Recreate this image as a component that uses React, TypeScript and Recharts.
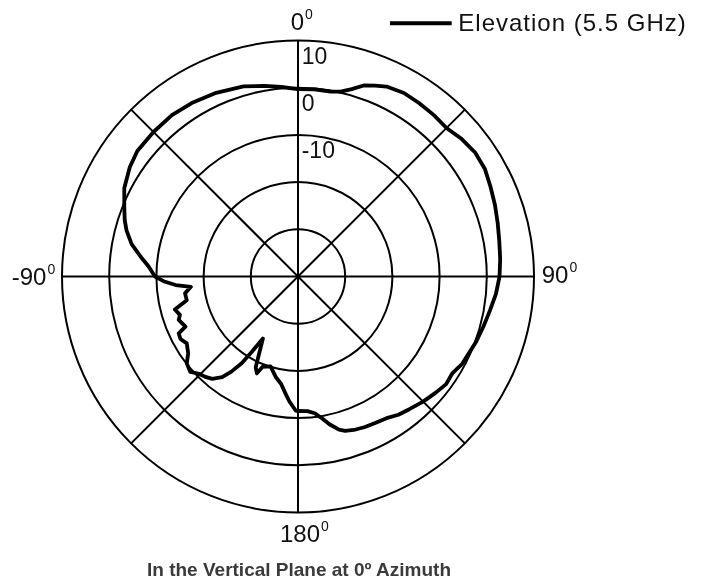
import React from "react";
import {
  RadarChart,
  Radar,
  PolarGrid,
  PolarAngleAxis,
  PolarRadiusAxis,
  Legend,
} from "recharts";

// measured elevation pattern, angle in degrees clockwise from top
const ANGLES = [
  0, 5, 10, 13, 16, 19, 22, 25, 30, 35, 40, 45, 50, 55, 60, 65, 70, 75, 80, 85,
  90, 95, 100, 105, 110, 115, 118, 122, 126, 130, 135, 140, 144, 148, 152, 156,
  160, 163, 165, 168, 170, 173, 176, 180, 181, 184, 186, 189, 192.5, 197, 201.5,
  203, 205, 209.5, 211.5, 213, 215, 217, 220, 223, 225.5, 228.5, 232, 235, 239,
  242, 244.5, 246, 250, 252, 255, 258, 261.5, 264.5, 266, 268, 270, 274, 277,
  281, 285, 288, 292, 297, 303, 308, 315, 322, 328.5, 336, 344, 350, 355,
];
const GAIN = [
  -0.3, -0.2, -0.2, 0.2, 1.3, 2.8, 3.6, 4.4, 4.9, 4.8, 4.7, 4.5, 5.3, 5.8, 5.7,
  5.0, 4.4, 3.8, 3.3, 3.0, 2.7, 2.1, 1.3, 0.7, 0.2, -0.4, -0.6, -1.4, -1.2, -1.8,
  -2.5, -3.3, -3.8, -4.6, -4.9, -5.1, -5.4, -5.8, -6.4, -8.0, -9.3, -10.8, -11.4,
  -11.5, -11.6, -13.5, -15.0, -17.0, -18.2, -20.1, -19.4, -17.7, -18.8, -24.9,
  -21.3, -18.1, -15.4, -13.3, -11.7, -11.0, -10.6, -9.5, -10.1, -11.6, -12.5,
  -11.8, -12.0, -13.9, -13.1, -13.7, -13.0, -15.9, -15.8, -17.2, -14.0, -11.5,
  -9.7, -8.2, -6.5, -4.1, -2.4, -1.4, -0.3, 1.3, 2.5, 3.2, 3.3, 3.4, 3.1, 2.6,
  1.9, 1.0, 0.3,
];

const SPOKES = [0, 45, 90, 135, 180, 225, 270, 315];
const RINGS = [-30, -20, -10, 0, 10];
const RING_LABELS = [-10, 0, 10];
const ANGLE_LABELS: Record<number, string> = { 0: "0", 90: "90", 180: "180", 270: "-90" };

const data = ANGLES.map((a, i) => ({ angle: a, gain: GAIN[i] }));

const FONT = "'Liberation Sans', Arial, sans-serif";

// offsets of each angle label from the tick anchor point
const LABEL_OFFSET: Record<number, [number, number]> = {
  0: [-7.3, -2.5],
  90: [-0.3, 6.8],
  180: [-18, 21.5],
  270: [-42.3, 8.5],
};

function AngleTick(props: any) {
  const { x, y, payload } = props;
  const text = ANGLE_LABELS[payload.value];
  if (text === undefined) return null;
  const [dx, dy] = LABEL_OFFSET[payload.value];
  return (
    <text x={x + dx} y={y + dy} fontSize={24} fontFamily={FONT} fill="#111" textAnchor="start">
      <tspan>{text}</tspan>
      <tspan fontSize={14} dy={-11} dx={1}>0</tspan>
    </text>
  );
}

function RadiusTick(props: any) {
  const { x, y, payload } = props;
  if (!RING_LABELS.includes(payload.value)) return null;
  return (
    <text x={x + 3.7} y={y + 23.5} fontSize={23} fontFamily={FONT} fill="#111" textAnchor="start">
      {payload.value}
    </text>
  );
}

function LegendBox() {
  return (
    <svg width={320} height={40}>
      <line x1={2} y1={23.3} x2={63.7} y2={23.3} stroke="#000" strokeWidth={4} />
      <text x={70.3} y={30.7} fontSize={24} fontFamily={FONT} fill="#111" letterSpacing={1}>
        Elevation (5.5 GHz)
      </text>
    </svg>
  );
}

export default function App() {
  return (
    <div style={{ position: "fixed", left: 0, top: 0, width: 706, height: 584 }}>
      <RadarChart
        width={706}
        height={584}
        cx={298}
        cy={276.5}
        outerRadius={236}
        startAngle={90}
        endAngle={-270}
        margin={{ top: 0, right: 0, bottom: 0, left: 0 }}
        data={data}
      >
        <PolarGrid gridType="circle" stroke="#000" strokeWidth={2} strokeOpacity={1} />
        <PolarAngleAxis
          dataKey="angle"
          type="number"
          domain={[0, 360]}
          ticks={SPOKES}
          tick={<AngleTick />}
          axisLine={false}
          tickLine={false}
        />
        <PolarRadiusAxis
          angle={90}
          type="number"
          domain={[-40, 10]}
          ticks={RINGS}
          tick={<RadiusTick />}
          axisLine={false}
          tickLine={false}
        />
        <Radar
          name="Elevation (5.5 GHz)"
          dataKey="gain"
          stroke="#000"
          strokeWidth={3.8}
          strokeLinejoin="round"
          fill="none"
          fillOpacity={0}
          dot={false}
          isAnimationActive={false}
        />
        <Legend
          content={<LegendBox />}
          wrapperStyle={{ position: "absolute", left: 388, top: 0, bottom: "auto", width: 320, height: 40 }}
        />
      </RadarChart>
      <div
        style={{
          position: "absolute",
          left: 0,
          width: 598,
          top: 559.8,
          lineHeight: "20px",
          textAlign: "center",
          fontFamily: FONT,
          fontWeight: "bold",
          fontSize: 19,
          color: "#3a3a3a",
        }}
      >
        In the Vertical Plane at 0º Azimuth
      </div>
    </div>
  );
}
